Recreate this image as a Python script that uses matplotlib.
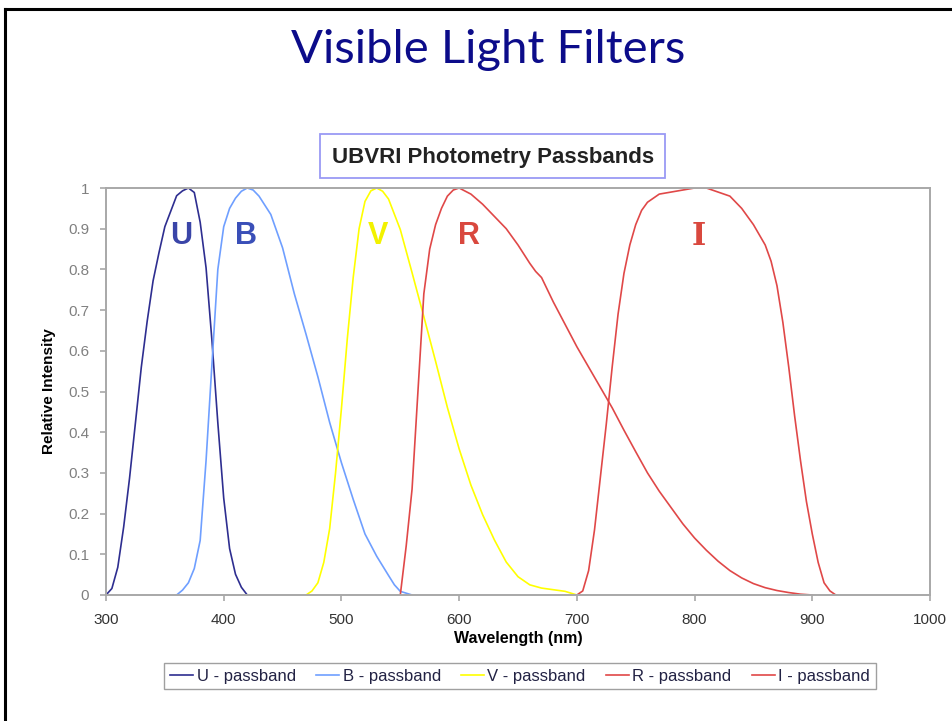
import matplotlib
matplotlib.use("Agg")
import matplotlib.pyplot as plt
from matplotlib.lines import Line2D
from matplotlib.patches import Rectangle

# passband curves (wavelength nm, relative intensity)
u_wl = [300, 305, 310, 315, 320, 325, 330, 335, 340, 345, 350, 355, 360, 365,
        370, 375, 380, 385, 390, 395, 400, 405, 410, 415, 420]
u_val = [0.0, 0.016, 0.068, 0.167, 0.287, 0.423, 0.560, 0.673, 0.772, 0.841,
         0.905, 0.943, 0.981, 0.993, 1.0, 0.989, 0.916, 0.804, 0.625, 0.423,
         0.238, 0.114, 0.051, 0.019, 0.0]

b_wl = [360, 365, 370, 375, 380, 385, 390, 395, 400, 405, 410, 415, 420, 425,
        430, 440, 450, 460, 470, 480, 490, 500, 510, 520, 530, 540, 545, 550, 560]
b_val = [0.0, 0.012, 0.030, 0.065, 0.134, 0.33, 0.567, 0.80, 0.905, 0.950,
         0.975, 0.992, 1.0, 0.995, 0.980, 0.935, 0.853, 0.740, 0.640, 0.536,
         0.424, 0.325, 0.235, 0.150, 0.095, 0.048, 0.025, 0.009, 0.0]

v_wl = [470, 475, 480, 485, 490, 495, 500, 505, 510, 515, 520, 525, 530, 535,
        540, 550, 560, 570, 580, 590, 600, 610, 620, 630, 640, 650, 660, 670,
        680, 690, 700]
v_val = [0.0, 0.01, 0.030, 0.08, 0.163, 0.30, 0.458, 0.63, 0.780, 0.90, 0.967,
         0.993, 1.0, 0.992, 0.973, 0.898, 0.792, 0.684, 0.574, 0.461, 0.359,
         0.270, 0.197, 0.135, 0.081, 0.045, 0.025, 0.017, 0.013, 0.009, 0.0]

r_wl = [550, 555, 560, 565, 570, 575, 580, 585, 590, 595, 600, 610, 620, 630,
        640, 650, 660, 665, 670, 680, 690, 700, 710, 720, 730, 740, 750, 760,
        770, 780, 790, 800, 810, 820, 830, 840, 850, 860, 870, 880, 890, 900]
r_val = [0.0, 0.12, 0.26, 0.50, 0.74, 0.85, 0.91, 0.950, 0.98, 0.995, 1.0,
         0.985, 0.96, 0.93, 0.90, 0.86, 0.815, 0.795, 0.78, 0.72, 0.665, 0.61,
         0.56, 0.51, 0.46, 0.405, 0.352, 0.30, 0.255, 0.215, 0.175, 0.14,
         0.11, 0.083, 0.06, 0.042, 0.028, 0.018, 0.011, 0.006, 0.002, 0.0]

i_wl = [700, 705, 710, 715, 720, 725, 730, 735, 740, 745, 750, 755, 760, 770,
        780, 790, 800, 810, 820, 830, 840, 850, 860, 865, 870, 875, 880, 885,
        890, 895, 900, 905, 910, 915, 920]
i_val = [0.0, 0.01, 0.06, 0.16, 0.29, 0.42, 0.56, 0.69, 0.79, 0.86, 0.91,
         0.945, 0.965, 0.985, 0.99, 0.995, 1.0, 1.0, 0.99, 0.98, 0.95, 0.91,
         0.86, 0.82, 0.76, 0.67, 0.56, 0.44, 0.33, 0.23, 0.15, 0.08, 0.03,
         0.01, 0.0]

labels = ["U - passband", "B - passband", "V - passband", "R - passband", "I - passband"]
colors = ["#2e2e90", "#6f9fff", "#ffff00", "#e04848", "#e04848"]
letters = ["U", "B", "V", "R", "I"]
letter_x = [181, 246, 378, 469, 699]
letter_colors = ["#3a45a8", "#3a4fb8", "#f2f200", "#d9483e", "#d9483e"]

fig = plt.figure(figsize=(9.52, 7.21), dpi=100)
W, H = 952.0, 721.0

# slide frame (left and top edges visible)
fig.add_artist(Line2D([5 / W, 5 / W], [0, 1 - 9 / H], color="black", lw=2.2))
fig.add_artist(Line2D([5 / W, 1], [1 - 9 / H, 1 - 9 / H], color="black", lw=2.2))

fig.text(488 / W, 1 - 50 / H, "Visible Light Filters", ha="center", va="center",
         fontsize=34, color="#0c0c8a", family="Lato")

# chart title in a box
fig.add_artist(Rectangle((320 / W, 1 - 178 / H), 345 / W, 44 / H, transform=fig.transFigure,
                         facecolor="white", edgecolor="#9a9af5", lw=1.3))
fig.text(493 / W, 1 - 157 / H, "UBVRI Photometry Passbands", ha="center", va="center",
         fontsize=16, fontweight="bold", color="#222222", family="Liberation Sans")

ax = fig.add_axes([106 / W, 1 - 595 / H, 824 / W, 407 / H])
series = [(u_wl, u_val), (b_wl, b_val), (v_wl, v_val), (r_wl, r_val), (i_wl, i_val)]
for (x, y), c, lab in zip(series, colors, labels):
    ax.plot(x, y, color=c, lw=1.2, label=lab, solid_joinstyle="round")

ax.set_xlim(300, 1000)
ax.set_ylim(0, 1)

# the letters are placed in pixel space so they sit where the picture has them
for let, lx, lc in zip(letters, letter_x, letter_colors):
    fam = "DejaVu Serif" if let == "I" else "Liberation Sans"
    fig.text(lx / W, 1 - 236 / H, let, ha="center", va="center", fontsize=22,
             fontweight="bold", color=lc, family=fam)

ax.set_xticks(range(300, 1001, 100))
ax.set_yticks([i / 10 for i in range(11)])
ax.set_yticklabels(["0"] + ["0.%d" % i for i in range(1, 10)] + ["1"])
for s in ax.spines.values():
    s.set_color("#a8a8a8")
    s.set_linewidth(1.4)
ax.tick_params(direction="out", length=4, color="#a8a8a8", width=1.2)
ax.tick_params(axis="y", labelcolor="#808080", labelsize=11, pad=8)
ax.tick_params(axis="x", labelcolor="#333333", labelsize=11, pad=9)
for t in ax.get_xticklabels() + ax.get_yticklabels():
    t.set_family("Liberation Sans")

ax.set_xlabel("Wavelength (nm)", fontsize=11.5, fontweight="bold", family="Liberation Sans",
              labelpad=3)
ax.set_ylabel("Relative Intensity", fontsize=11, fontweight="bold", family="Liberation Sans",
              labelpad=9)

leg = fig.legend(loc="center", bbox_to_anchor=(520 / W, 1 - 676 / H), ncol=5,
                 frameon=True, fancybox=False, handlelength=1.4,
                 handletextpad=0.2, columnspacing=1.2, borderpad=0.35,
                 prop={"family": "Liberation Sans", "size": 12})
leg.get_frame().set_edgecolor("#888888")
leg.get_frame().set_linewidth(1.0)
for t in leg.get_texts():
    t.set_color("#222244")

fig.savefig("out.png", dpi=100)
